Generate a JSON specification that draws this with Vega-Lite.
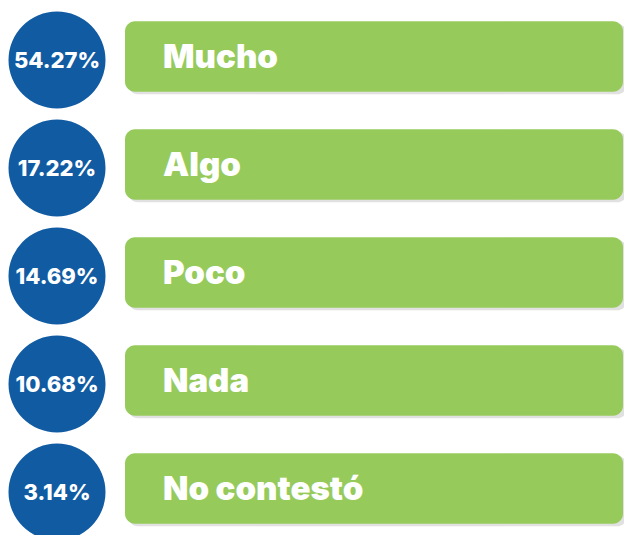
{
  "$schema": "https://vega.github.io/schema/vega-lite/v6.json",
  "autosize": {"type": "none"},
  "padding": {"left": 0, "top": 6, "right": 0, "bottom": 0},
  "width": 624,
  "height": 540,
  "background": "white",
  "view": {"stroke": null},
  "data": {"values": [
    {"respuesta": "Mucho", "pct": 54.27, "etiqueta": "54.27%"},
    {"respuesta": "Algo", "pct": 17.22, "etiqueta": "17.22%"},
    {"respuesta": "Poco", "pct": 14.69, "etiqueta": "14.69%"},
    {"respuesta": "Nada", "pct": 10.68, "etiqueta": "10.68%"},
    {"respuesta": "No contestó", "pct": 3.14, "etiqueta": "3.14%"}
  ]},
  "encoding": {
    "y": {"field": "respuesta", "type": "nominal", "sort": null,
          "scale": {"paddingInner": 0, "paddingOuter": 0}, "axis": null}
  },
  "layer": [
    {
      "mark": {"type": "bar", "color": "#9a9a9a", "opacity": 0.3, "cornerRadius": 10, "height": {"band": 0.655}, "yOffset": -1},
      "encoding": {
        "x": {"datum": 128, "type": "quantitative", "scale": {"domain": [0, 624], "nice": false, "zero": false}, "axis": null},
        "x2": {"datum": 627}
      }
    },
    {
      "mark": {"type": "bar", "color": "#96CB5C", "cornerRadius": 10, "height": {"band": 0.655}, "yOffset": -3.5},
      "encoding": {
        "x": {"datum": 125, "type": "quantitative"},
        "x2": {"datum": 623}
      }
    },
    {
      "mark": {"type": "point", "shape": "circle", "filled": true, "color": "#115BA3", "opacity": 1, "size": 9409},
      "encoding": {"x": {"datum": 57, "type": "quantitative"}}
    },
    {
      "mark": {"type": "text", "color": "white", "font": "Inter", "fontWeight": 800, "fontSize": 22, "align": "center", "baseline": "middle", "dy": 1},
      "encoding": {"x": {"datum": 57, "type": "quantitative"}, "text": {"field": "etiqueta"}}
    },
    {
      "mark": {"type": "text", "color": "white", "font": "Inter", "fontWeight": 900, "fontSize": 33, "align": "left", "baseline": "middle", "dy": -2},
      "encoding": {"x": {"datum": 163, "type": "quantitative"}, "text": {"field": "respuesta"}}
    }
  ]
}
